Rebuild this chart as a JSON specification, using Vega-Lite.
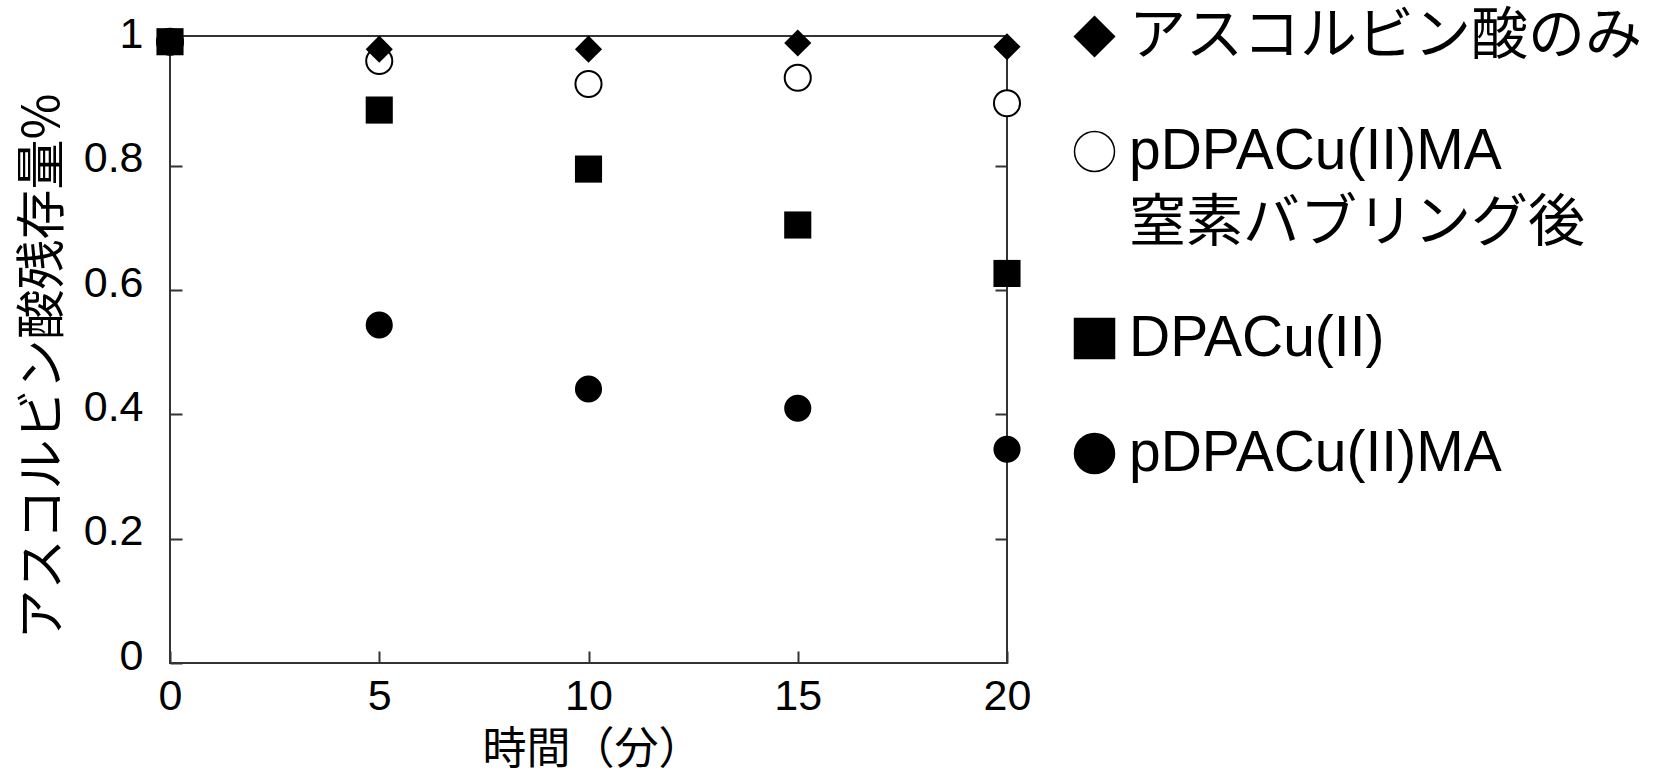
{
  "$schema": "https://vega.github.io/schema/vega-lite/v6.json",
  "width": 837,
  "height": 627,
  "autosize": {"type": "none"},
  "padding": {"left": 170, "top": 36, "right": 657, "bottom": 115},
  "background": "white",
  "config": {
    "view": {"stroke": "#333", "strokeWidth": 2},
    "style": {"guide-label": {"lineHeight": 72}},
    "axis": {
      "domain": false,
      "grid": false,
      "tickColor": "#333",
      "tickWidth": 2,
      "tickSize": -12,
      "labelFont": "Liberation Sans",
      "labelFontSize": 43,
      "labelColor": "black",
      "labelFlush": false,
      "titleFont": "Noto Sans CJK JP",
      "titleFontWeight": "normal",
      "titleColor": "black"
    }
  },
  "data": {
    "values": [
      {"series": "pDPACu(II)MA", "time": 0, "value": 1.0},
      {"series": "pDPACu(II)MA", "time": 5, "value": 0.544},
      {"series": "pDPACu(II)MA", "time": 10, "value": 0.441},
      {"series": "pDPACu(II)MA", "time": 15, "value": 0.41},
      {"series": "pDPACu(II)MA", "time": 20, "value": 0.344},
      {"series": "pDPACu(II)MA 窒素バブリング後", "time": 0, "value": 1.0},
      {"series": "pDPACu(II)MA 窒素バブリング後", "time": 5, "value": 0.969},
      {"series": "pDPACu(II)MA 窒素バブリング後", "time": 10, "value": 0.932},
      {"series": "pDPACu(II)MA 窒素バブリング後", "time": 15, "value": 0.942},
      {"series": "pDPACu(II)MA 窒素バブリング後", "time": 20, "value": 0.901},
      {"series": "アスコルビン酸のみ", "time": 0, "value": 1.0},
      {"series": "アスコルビン酸のみ", "time": 5, "value": 0.988},
      {"series": "アスコルビン酸のみ", "time": 10, "value": 0.988},
      {"series": "アスコルビン酸のみ", "time": 15, "value": 0.998},
      {"series": "アスコルビン酸のみ", "time": 20, "value": 0.992},
      {"series": "DPACu(II)", "time": 0, "value": 1.0},
      {"series": "DPACu(II)", "time": 5, "value": 0.89},
      {"series": "DPACu(II)", "time": 10, "value": 0.795},
      {"series": "DPACu(II)", "time": 15, "value": 0.705},
      {"series": "DPACu(II)", "time": 20, "value": 0.627}
    ]
  },
  "layer": [
    {
      "mark": {"type": "point", "filled": true, "opacity": 1, "stroke": "black"},
      "encoding": {
        "x": {
          "field": "time",
          "type": "quantitative",
          "scale": {"domain": [0, 20], "nice": false},
          "axis": {
            "title": "時間（分）",
            "values": [0, 5, 10, 15, 20],
            "format": "~g",
            "labelPadding": 24,
            "titleFontSize": 44,
            "titleX": 422,
            "titleY": 87,
            "titleBaseline": "middle",
            "titleAlign": "center"
          }
        },
        "y": {
          "field": "value",
          "type": "quantitative",
          "scale": {"domain": [0, 1.0092], "nice": false, "zero": true},
          "axis": {
            "title": "アスコルビン酸残存量%",
            "values": [0, 0.2, 0.4, 0.6, 0.8, 1],
            "format": "~g",
            "labelPadding": 39,
            "labelOffset": -7,
            "titleFontSize": 50,
            "titleAngle": -90,
            "titleX": -127,
            "titleY": 330,
            "titleBaseline": "middle",
            "titleAlign": "center"
          }
        },
        "shape": {
          "condition": [
            {"test": "datum.series === 'アスコルビン酸のみ'", "value": "diamond"},
            {"test": "datum.series === 'DPACu(II)'", "value": "square"}
          ],
          "value": "circle"
        },
        "fill": {
          "condition": {"test": "datum.series === 'pDPACu(II)MA 窒素バブリング後'", "value": "white"},
          "value": "black"
        },
        "strokeWidth": {
          "condition": {"test": "datum.series === 'pDPACu(II)MA 窒素バブリング後'", "value": 2},
          "value": 0
        },
        "size": {
          "condition": {"test": "datum.series === 'pDPACu(II)MA 窒素バブリング後'", "value": 680},
          "value": 735
        }
      }
    },
    {
      "transform": [{"filter": "false"}],
      "mark": {"type": "point", "filled": true, "opacity": 1, "stroke": "black", "strokeWidth": 1.5},
      "encoding": {
        "x": {"field": "time", "type": "quantitative"},
        "y": {"field": "value", "type": "quantitative", "axis": null},
        "shape": {
          "field": "series",
          "type": "nominal",
          "scale": {
            "domain": ["アスコルビン酸のみ", "pDPACu(II)MA 窒素バブリング後", "DPACu(II)", "pDPACu(II)MA"],
            "range": ["diamond", "circle", "square", "circle"]
          },
          "legend": {
            "orient": "none",
            "legendX": 896,
            "legendY": -28,
            "direction": "vertical",
            "title": null,
            "padding": 0,
            "symbolOpacity": 1,
            "symbolStrokeColor": "black",
            "symbolStrokeWidth": 1.5,
            "labelFont": "Liberation Sans, Noto Sans CJK JP",
            "labelFontSize": 57,
            "labelColor": "black",
            "labelLimit": 900,
            "labelOffset": 6,
            "rowPadding": 57,
            "labelExpr": "datum.value === 'pDPACu(II)MA 窒素バブリング後' ? ['pDPACu(II)MA', '窒素バブリング後'] : datum.label"
          }
        },
        "fill": {
          "field": "series",
          "type": "nominal",
          "scale": {
            "domain": ["アスコルビン酸のみ", "pDPACu(II)MA 窒素バブリング後", "DPACu(II)", "pDPACu(II)MA"],
            "range": ["black", "white", "black", "black"]
          }
        },
        "size": {
          "field": "series",
          "type": "ordinal",
          "scale": {
            "domain": ["アスコルビン酸のみ", "pDPACu(II)MA 窒素バブリング後", "DPACu(II)", "pDPACu(II)MA"],
            "range": [1600, 1600, 1296, 4356]
          }
        }
      }
    },
    {
      "mark": {"type": "point", "opacity": 0},
      "encoding": {
        "x": {"field": "time", "type": "quantitative"},
        "y": {
          "field": "value",
          "type": "quantitative",
          "axis": {
            "orient": "right",
            "title": null,
            "labels": false,
            "values": [0.2, 0.4, 0.6, 0.8]
          }
        }
      }
    }
  ],
  "resolve": {"axis": {"y": "independent"}}
}
